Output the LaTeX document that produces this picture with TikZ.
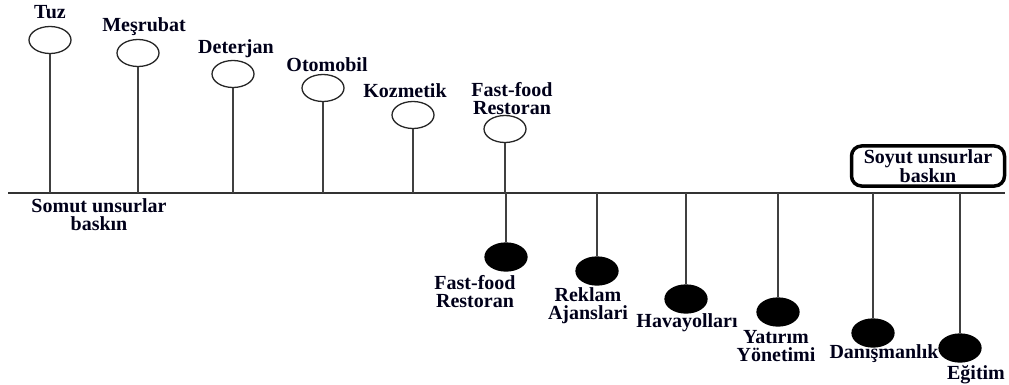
\documentclass[tikz,border=0pt]{standalone}
\usepackage{fontspec}
\setmainfont{Liberation Serif}
\usetikzlibrary{shapes.geometric}
\begin{document}
\begin{tikzpicture}[x=1pt,y=-1pt,
  ink/.style={draw=black!85},
  topball/.style={ellipse, ink, line width=1.3pt, fill=white, minimum width=42pt, minimum height=27pt, inner sep=0pt},
  botball/.style={ellipse, draw=black, line width=1.3pt, fill=black, minimum width=42pt, minimum height=28pt, inner sep=0pt},
  lbl/.style={font=\fontsize{20}{18}\selectfont\bfseries, text=black!90!blue, align=center, inner sep=0pt},
  stem/.style={draw=black!75, line width=1.8pt},
  axisline/.style={draw=black!80, line width=1.4pt},
  dombox/.style={draw=black, line width=3.5pt, rounded corners=10pt, minimum width=153pt, minimum height=40pt, align=center, inner sep=0pt, font=\fontsize{20}{17}\selectfont\bfseries, text=black!90!blue}
]
\useasboundingbox (0,0) rectangle (1009,385);

% axis
\coordinate (axL) at (8,193);
\coordinate (axR) at (1005,193);
\draw[axisline] (axL) -- (axR);

% tangible-dominated goods (above the axis)
\node[topball] (tuz) at (50,40) {};
\node[topball] (mes) at (138,53) {};
\node[topball] (det) at (233,74) {};
\node[topball] (oto) at (323,88) {};
\node[topball] (koz) at (413,115) {};
\node[topball] (ffu) at (505,129) {};

\node[lbl] (ltuz) at (50,12) {Tuz};
\node[lbl] (lmes) at (144,27) {Meşrubat};
\node[lbl] (ldet) at (236,49) {Deterjan};
\node[lbl] (loto) at (327,65) {Otomobil};
\node[lbl] (lkoz) at (405,91) {Kozmetik};
\node[lbl] (lffu) at (512,99) {Fast-food\\Restoran};

\foreach \n in {tuz,mes,det,oto,koz,ffu}
  \draw[stem] (\n.south) -- (\n.south |- axL);

% intangible-dominated services (below the axis)
\node[botball] (ffd) at (506,257) {};
\node[botball] (rek) at (597,271) {};
\node[botball] (hav) at (686,299) {};
\node[botball] (yat) at (778,312) {};
\node[botball] (dan) at (873,333) {};
\node[botball] (egi) at (960,348) {};

\foreach \n in {ffd,rek,hav,yat,dan,egi}
  \draw[stem] (\n.north |- axL) -- (\n.north);

\node[lbl] (lffd) at (475,292) {Fast-food\\Restoran};
\node[lbl] (lrek) at (588,306) {Reklam\\Ajanslari};
\node[lbl] (lhav) at (687,323) {Havayolları};
\node[lbl] (lyat) at (776,346) {Yatırım\\Yönetimi};
\node[lbl] (ldan) at (884,354) {Danışmanlık};
\node[lbl] (legi) at (976,375) {Eğitim};

% end labels
\node[lbl] (somut) at (99,215) {Somut unsurlar\\baskın};
\node[dombox] (soyut) at (928,166) {Soyut unsurlar\\baskın};
\end{tikzpicture}
\end{document}
